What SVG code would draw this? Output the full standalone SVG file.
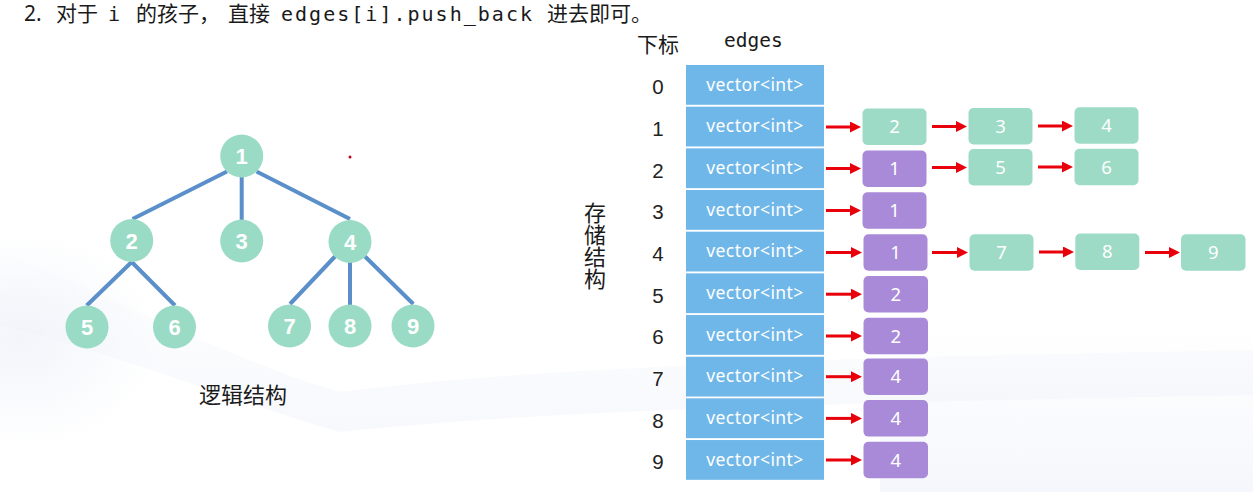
<svg xmlns="http://www.w3.org/2000/svg" width="1253" height="492" viewBox="0 0 1253 492">
<defs>
  <linearGradient id="bgband" x1="0" y1="0" x2="0" y2="1">
    <stop offset="0" stop-color="#e8ecf6" stop-opacity="0"/>
    <stop offset="1" stop-color="#e8ecf6" stop-opacity="1"/>
  </linearGradient>
  <linearGradient id="bgband2" x1="0" y1="0" x2="0" y2="1">
    <stop offset="0" stop-color="#eef1fa" stop-opacity="0"/>
    <stop offset="1" stop-color="#eceff9" stop-opacity="1"/>
  </linearGradient>
  <radialGradient id="bgleft" cx="0.5" cy="0.5" r="0.5">
    <stop offset="0" stop-color="#e9eef7" stop-opacity="1"/>
    <stop offset="1" stop-color="#e9eef7" stop-opacity="0"/>
  </radialGradient>
  <marker id="ah" markerWidth="11" markerHeight="11" refX="1" refY="5.5" orient="auto" markerUnits="userSpaceOnUse">
    <path d="M0,0 L11,5.5 L0,11 Z" fill="#e8000b"/>
  </marker>
  <style>
    .title-cn { font-family: "Noto Sans CJK SC", "Noto Sans", sans-serif; font-size: 21px; fill: #1a1a1a; }
    .title-mono { font-family: "DejaVu Sans Mono", "Liberation Mono", monospace; font-size: 20px; fill: #1a1a1a; }
    .lbl { font-family: "Noto Sans CJK SC", sans-serif; fill: #1a1a1a; }
    .idx { font-family: "Liberation Sans", "Noto Sans", sans-serif; font-size: 20.5px; fill: #222; text-anchor: middle; }
    .cell { fill: #70b7e9; }
    .cell-t { font-family: "Noto Sans", "Liberation Sans", sans-serif; font-size: 17.5px; letter-spacing: 0.4px; fill: #ffffff; text-anchor: middle; }
    .g-box { fill: #9ddbc7; }
    .p-box { fill: #a98ad8; }
    .box-t { font-family: "Noto Sans", "Liberation Sans", sans-serif; font-size: 18.5px; fill: #ffffff; text-anchor: middle; }
    .tnode { fill: #9adbc5; }
    .tnode-t { font-family: "Liberation Sans", "Noto Sans", sans-serif; font-weight: bold; font-size: 22px; fill: #ffffff; text-anchor: middle; }
    .tedge { stroke: #5b8fca; stroke-width: 4; stroke-linecap: butt; }
    .arr { stroke: #e8000b; stroke-width: 3; marker-end: url(#ah); }
    .vert { writing-mode: vertical-rl; text-orientation: upright; }
  </style>
</defs>

<!-- background -->
<rect x="0" y="0" width="1253" height="492" fill="#ffffff"/>
<ellipse cx="20" cy="340" rx="140" ry="110" fill="url(#bgleft)" opacity="0.6"/>
<path d="M0,250 C120,300 230,360 340,392 C500,372 700,360 1253,350 L1253,395 C700,405 500,415 340,432 C230,400 120,355 0,325 Z" fill="url(#bgband)" opacity="0.35"/>
<path d="M880,320 C1000,330 1150,335 1253,335 L1253,492 L880,492 Z" fill="url(#bgband2)" opacity="0.5"/>
<circle cx="350" cy="157" r="1.5" fill="#c0001a"/>

<!-- title -->
<g id="title">
  <text class="title-cn" x="24" y="21" style="font-family:'Noto Sans','Liberation Sans',sans-serif">2.</text>
  <text class="title-cn" x="56" y="21">对于</text>
  <text class="title-mono" x="108" y="21">i</text>
  <text class="title-cn" x="136" y="21">的孩子，</text>
  <text class="title-cn" x="228" y="21">直接</text>
  <text class="title-mono" x="281" y="21" textLength="251" lengthAdjust="spacing">edges[i].push_back</text>
  <text class="title-cn" x="547" y="21">进去即可。</text>
</g>

<!-- tree connectors -->
<g id="tree-edges">
  <line class="tedge" x1="227" y1="171.5" x2="132.5" y2="219"/>
  <line class="tedge" x1="241.7" y1="177" x2="241.7" y2="220"/>
  <line class="tedge" x1="256.5" y1="171.5" x2="350" y2="219"/>
  <line class="tedge" x1="131.7" y1="262" x2="86.7" y2="305.5"/>
  <line class="tedge" x1="131.7" y1="262" x2="175" y2="305.5"/>
  <line class="tedge" x1="335" y1="256.5" x2="290" y2="304"/>
  <line class="tedge" x1="350" y1="262" x2="350" y2="305"/>
  <line class="tedge" x1="365" y1="256.5" x2="413.3" y2="304"/>
</g>

<!-- tree nodes -->
<g id="tree-1"><circle class="tnode" cx="241.7" cy="156" r="21.5"/><text class="tnode-t" x="241.7" y="164">1</text></g>
<g id="tree-2"><circle class="tnode" cx="131.7" cy="240.5" r="21.5"/><text class="tnode-t" x="131.7" y="248.5">2</text></g>
<g id="tree-3"><circle class="tnode" cx="241.7" cy="241" r="21.5"/><text class="tnode-t" x="241.7" y="249">3</text></g>
<g id="tree-4"><circle class="tnode" cx="350" cy="241.5" r="21.5"/><text class="tnode-t" x="350" y="249.5">4</text></g>
<g id="tree-5"><circle class="tnode" cx="87" cy="327" r="21.5"/><text class="tnode-t" x="87" y="335">5</text></g>
<g id="tree-6"><circle class="tnode" cx="174.5" cy="327" r="21.5"/><text class="tnode-t" x="174.5" y="335">6</text></g>
<g id="tree-7"><circle class="tnode" cx="289.5" cy="326" r="21.5"/><text class="tnode-t" x="289.5" y="334">7</text></g>
<g id="tree-8"><circle class="tnode" cx="350" cy="326" r="21.5"/><text class="tnode-t" x="350" y="334">8</text></g>
<g id="tree-9"><circle class="tnode" cx="413" cy="326" r="21.5"/><text class="tnode-t" x="413" y="334">9</text></g>

<text class="lbl" x="243" y="403" font-size="22" text-anchor="middle">逻辑结构</text>

<!-- storage structure label (vertical) -->
<text id="storage-label" class="lbl vert" x="595" y="202" font-size="22">存储结构</text>
<text class="lbl" x="637" y="52" font-size="21">下标</text>
<text class="title-mono" x="724" y="47" style="font-size:19.5px">edges</text>

<!-- table rows -->
<g id="edges-table">
  <g id="row-0"><text class="idx" x="658" y="94.3">0</text><rect class="cell" x="686" y="65" width="138" height="39.8"/><text class="cell-t" x="755" y="90.5">vector&lt;int&gt;</text></g>
  <g id="row-1"><text class="idx" x="658" y="136">1</text><rect class="cell" x="686" y="106.67" width="138" height="39.8"/><text class="cell-t" x="755" y="132.2">vector&lt;int&gt;</text></g>
  <g id="row-2"><text class="idx" x="658" y="177.7">2</text><rect class="cell" x="686" y="148.34" width="138" height="39.8"/><text class="cell-t" x="755" y="173.9">vector&lt;int&gt;</text></g>
  <g id="row-3"><text class="idx" x="658" y="219.4">3</text><rect class="cell" x="686" y="190.01" width="138" height="39.8"/><text class="cell-t" x="755" y="215.6">vector&lt;int&gt;</text></g>
  <g id="row-4"><text class="idx" x="658" y="261">4</text><rect class="cell" x="686" y="231.68" width="138" height="39.8"/><text class="cell-t" x="755" y="257.2">vector&lt;int&gt;</text></g>
  <g id="row-5"><text class="idx" x="658" y="302.7">5</text><rect class="cell" x="686" y="273.35" width="138" height="39.8"/><text class="cell-t" x="755" y="298.9">vector&lt;int&gt;</text></g>
  <g id="row-6"><text class="idx" x="658" y="344.4">6</text><rect class="cell" x="686" y="315.02" width="138" height="39.8"/><text class="cell-t" x="755" y="340.6">vector&lt;int&gt;</text></g>
  <g id="row-7"><text class="idx" x="658" y="386">7</text><rect class="cell" x="686" y="356.69" width="138" height="39.8"/><text class="cell-t" x="755" y="382.2">vector&lt;int&gt;</text></g>
  <g id="row-8"><text class="idx" x="658" y="427.7">8</text><rect class="cell" x="686" y="398.36" width="138" height="39.8"/><text class="cell-t" x="755" y="423.9">vector&lt;int&gt;</text></g>
  <g id="row-9"><text class="idx" x="658" y="469.4">9</text><rect class="cell" x="686" y="440.03" width="138" height="39.8"/><text class="cell-t" x="755" y="465.6">vector&lt;int&gt;</text></g>
</g>

<!-- list boxes -->
<g id="r1-a"><rect class="g-box" x="862.5" y="108.5" width="64" height="36.5" rx="5"/><text class="box-t" x="894.5" y="133.3">2</text></g>
<g id="r1-b"><rect class="g-box" x="968.5" y="108" width="64" height="36.5" rx="5"/><text class="box-t" x="1000.5" y="132.8">3</text></g>
<g id="r1-c"><rect class="g-box" x="1074.5" y="107.3" width="64" height="36.5" rx="5"/><text class="box-t" x="1106.5" y="132.1">4</text></g>

<g id="r2-a"><rect class="p-box" x="862.5" y="150.5" width="64" height="36.5" rx="5"/><text class="box-t" x="894.5" y="175.3">1</text></g>
<g id="r2-b"><rect class="g-box" x="968.5" y="149" width="64" height="36.5" rx="5"/><text class="box-t" x="1000.5" y="173.8">5</text></g>
<g id="r2-c"><rect class="g-box" x="1074.5" y="148.7" width="64" height="36.5" rx="5"/><text class="box-t" x="1106.5" y="173.5">6</text></g>

<g id="r3-a"><rect class="p-box" x="862.5" y="192.3" width="64" height="36.5" rx="5"/><text class="box-t" x="894.5" y="217.1">1</text></g>

<g id="r4-a"><rect class="p-box" x="863.5" y="234.3" width="64" height="36.5" rx="5"/><text class="box-t" x="895.5" y="259.1">1</text></g>
<g id="r4-b"><rect class="g-box" x="969.5" y="234.3" width="64" height="36.5" rx="5"/><text class="box-t" x="1001.5" y="259.1">7</text></g>
<g id="r4-c"><rect class="g-box" x="1075.3" y="233.5" width="64" height="36.5" rx="5"/><text class="box-t" x="1107.3" y="258.3">8</text></g>
<g id="r4-d"><rect class="g-box" x="1181" y="234.3" width="64.5" height="36.5" rx="5"/><text class="box-t" x="1213.2" y="259.1">9</text></g>

<g id="r5-a"><rect class="p-box" x="863.5" y="276" width="64.5" height="36.5" rx="5"/><text class="box-t" x="895.7" y="300.8">2</text></g>
<g id="r6-a"><rect class="p-box" x="863.5" y="317.7" width="64.5" height="36.5" rx="5"/><text class="box-t" x="895.7" y="342.5">2</text></g>
<g id="r7-a"><rect class="p-box" x="863.5" y="358.4" width="64.5" height="36.5" rx="5"/><text class="box-t" x="895.7" y="383.2">4</text></g>
<g id="r8-a"><rect class="p-box" x="863.5" y="400.1" width="64.5" height="36.5" rx="5"/><text class="box-t" x="895.7" y="424.9">4</text></g>
<g id="r9-a"><rect class="p-box" x="863.5" y="441.8" width="64.5" height="36.5" rx="5"/><text class="box-t" x="895.7" y="466.6">4</text></g>

<!-- connectors (arrows) -->
<g id="arrows">
  <line class="arr" x1="826" y1="127" x2="851" y2="127"/>
  <line class="arr" x1="932" y1="126.5" x2="957" y2="126.5"/>
  <line class="arr" x1="1038" y1="126" x2="1063" y2="126"/>

  <line class="arr" x1="826" y1="168.5" x2="851" y2="168.5"/>
  <line class="arr" x1="932" y1="167.5" x2="957" y2="167.5"/>
  <line class="arr" x1="1038" y1="167" x2="1063" y2="167"/>

  <line class="arr" x1="826" y1="210.5" x2="851" y2="210.5"/>

  <line class="arr" x1="826" y1="252.5" x2="852" y2="252.5"/>
  <line class="arr" x1="932" y1="252.5" x2="958" y2="252.5"/>
  <line class="arr" x1="1039" y1="252" x2="1064" y2="252"/>
  <line class="arr" x1="1145" y1="252.5" x2="1170" y2="252.5"/>

  <line class="arr" x1="826" y1="294.2" x2="852" y2="294.2"/>
  <line class="arr" x1="826" y1="336" x2="852" y2="336"/>
  <line class="arr" x1="826" y1="376.7" x2="852" y2="376.7"/>
  <line class="arr" x1="826" y1="418.4" x2="852" y2="418.4"/>
  <line class="arr" x1="826" y1="460" x2="852" y2="460"/>
</g>
</svg>
